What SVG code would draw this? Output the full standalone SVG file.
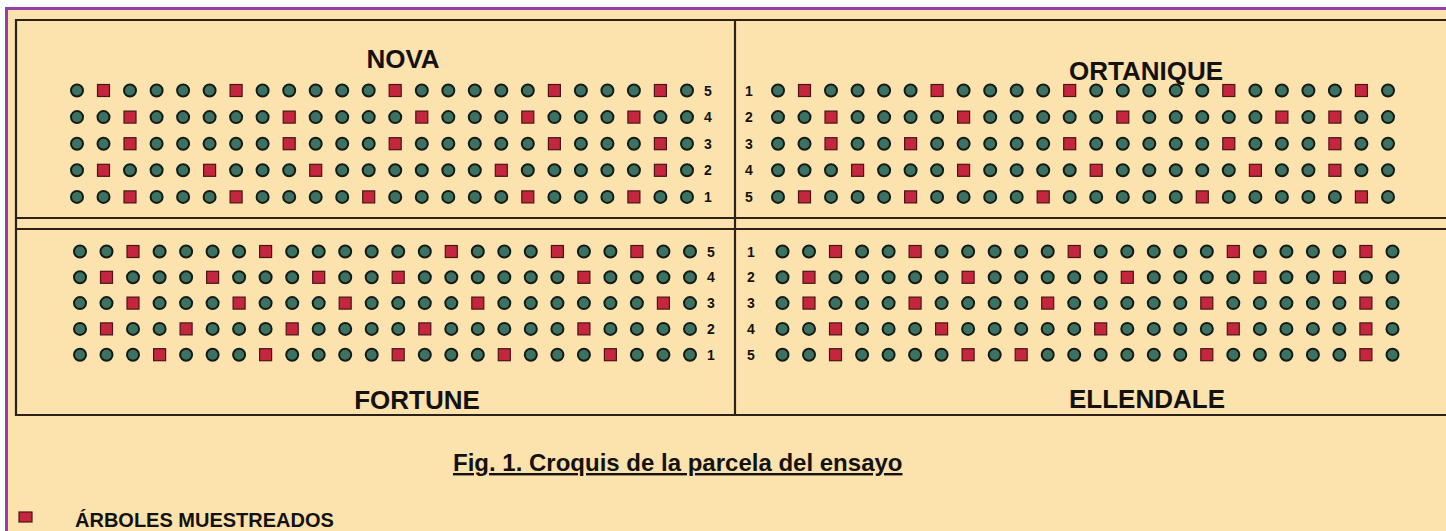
<svg xmlns="http://www.w3.org/2000/svg" width="1446" height="531" viewBox="0 0 1446 531">
<style>
.bg{fill:#fce2ac}
.frame{stroke:#2b2118;stroke-width:2.2;fill:none}
.purple{stroke:#9440a8;stroke-width:3;fill:none}
.tree{fill:#3b7262;stroke:#161a16;stroke-width:2}
.samp{fill:#c4263e;stroke:#4a1418;stroke-width:1.2}
.title{font-family:"Liberation Sans",Arial,sans-serif;font-weight:bold;font-size:26px;fill:#141210;text-anchor:middle}
.num{font-family:"Liberation Sans",Arial,sans-serif;font-weight:bold;font-size:14px;fill:#141210;text-anchor:middle}
.cap{font-family:"Liberation Sans",Arial,sans-serif;font-weight:bold;font-size:24px;fill:#141210;text-decoration:underline}
.leg{font-family:"Liberation Sans",Arial,sans-serif;font-weight:bold;font-size:20px;fill:#141210}
</style>
<defs>
<circle id="c" r="6" class="tree"/>
<rect id="s" x="-6" y="-6" width="12" height="12" class="samp"/>
</defs>
<rect width="1446" height="531" fill="#ffffff"/>
<rect x="6" y="8" width="1440" height="523" class="bg"/>
<path class="purple" d="M6.5,531 V8.5 H1446"/>
<g id="frame">
<path class="frame" d="M1446,20 H16 V415 H1446 M16,218 H1446 M16,229 H1446 M735,20 V415"/>
</g>
<g id="nova">
<text class="title" x="403" y="68">NOVA</text>
<g transform="translate(77,90.5)">
<g>
<use href="#c" x="0"/><use href="#s" x="26.5"/><use href="#c" x="53"/><use href="#c" x="79.6"/><use href="#c" x="106.1"/><use href="#c" x="132.6"/><use href="#s" x="159.1"/><use href="#c" x="185.6"/><use href="#c" x="212.2"/><use href="#c" x="238.7"/><use href="#c" x="265.2"/><use href="#c" x="291.7"/><use href="#s" x="318.2"/><use href="#c" x="344.8"/><use href="#c" x="371.3"/><use href="#c" x="397.8"/><use href="#c" x="424.3"/><use href="#c" x="450.8"/><use href="#s" x="477.4"/><use href="#c" x="503.9"/><use href="#c" x="530.4"/><use href="#c" x="556.9"/><use href="#s" x="583.4"/><use href="#c" x="610"/>
</g>
<g transform="translate(0,26.6)">
<use href="#c" x="0"/><use href="#c" x="26.5"/><use href="#s" x="53"/><use href="#c" x="79.6"/><use href="#c" x="106.1"/><use href="#c" x="132.6"/><use href="#c" x="159.1"/><use href="#c" x="185.6"/><use href="#s" x="212.2"/><use href="#c" x="238.7"/><use href="#c" x="265.2"/><use href="#c" x="291.7"/><use href="#c" x="318.2"/><use href="#s" x="344.8"/><use href="#c" x="371.3"/><use href="#c" x="397.8"/><use href="#c" x="424.3"/><use href="#s" x="450.8"/><use href="#c" x="477.4"/><use href="#c" x="503.9"/><use href="#c" x="530.4"/><use href="#s" x="556.9"/><use href="#c" x="583.4"/><use href="#c" x="610"/>
</g>
<g transform="translate(0,53.2)">
<use href="#c" x="0"/><use href="#c" x="26.5"/><use href="#s" x="53"/><use href="#c" x="79.6"/><use href="#c" x="106.1"/><use href="#c" x="132.6"/><use href="#c" x="159.1"/><use href="#c" x="185.6"/><use href="#s" x="212.2"/><use href="#c" x="238.7"/><use href="#c" x="265.2"/><use href="#c" x="291.7"/><use href="#s" x="318.2"/><use href="#c" x="344.8"/><use href="#c" x="371.3"/><use href="#c" x="397.8"/><use href="#c" x="424.3"/><use href="#c" x="450.8"/><use href="#s" x="477.4"/><use href="#c" x="503.9"/><use href="#c" x="530.4"/><use href="#c" x="556.9"/><use href="#s" x="583.4"/><use href="#c" x="610"/>
</g>
<g transform="translate(0,79.8)">
<use href="#c" x="0"/><use href="#s" x="26.5"/><use href="#c" x="53"/><use href="#c" x="79.6"/><use href="#c" x="106.1"/><use href="#s" x="132.6"/><use href="#c" x="159.1"/><use href="#c" x="185.6"/><use href="#c" x="212.2"/><use href="#s" x="238.7"/><use href="#c" x="265.2"/><use href="#c" x="291.7"/><use href="#c" x="318.2"/><use href="#c" x="344.8"/><use href="#c" x="371.3"/><use href="#c" x="397.8"/><use href="#s" x="424.3"/><use href="#c" x="450.8"/><use href="#c" x="477.4"/><use href="#c" x="503.9"/><use href="#c" x="530.4"/><use href="#c" x="556.9"/><use href="#s" x="583.4"/><use href="#c" x="610"/>
</g>
<g transform="translate(0,106.4)">
<use href="#c" x="0"/><use href="#c" x="26.5"/><use href="#s" x="53"/><use href="#c" x="79.6"/><use href="#c" x="106.1"/><use href="#c" x="132.6"/><use href="#s" x="159.1"/><use href="#c" x="185.6"/><use href="#c" x="212.2"/><use href="#c" x="238.7"/><use href="#c" x="265.2"/><use href="#s" x="291.7"/><use href="#c" x="318.2"/><use href="#c" x="344.8"/><use href="#c" x="371.3"/><use href="#c" x="397.8"/><use href="#c" x="424.3"/><use href="#s" x="450.8"/><use href="#c" x="477.4"/><use href="#c" x="503.9"/><use href="#c" x="530.4"/><use href="#s" x="556.9"/><use href="#c" x="583.4"/><use href="#c" x="610"/>
</g>
</g>
<text class="num" x="708" y="95.5">5</text>
<text class="num" x="708" y="122.1">4</text>
<text class="num" x="708" y="148.7">3</text>
<text class="num" x="708" y="175.3">2</text>
<text class="num" x="708" y="201.9">1</text>
</g>
<g id="ortanique">
<text class="title" x="1146" y="80">ORTANIQUE</text>
<g transform="translate(778,90.5)">
<g>
<use href="#c" x="0"/><use href="#s" x="26.5"/><use href="#c" x="53"/><use href="#c" x="79.6"/><use href="#c" x="106.1"/><use href="#c" x="132.6"/><use href="#s" x="159.1"/><use href="#c" x="185.6"/><use href="#c" x="212.2"/><use href="#c" x="238.7"/><use href="#c" x="265.2"/><use href="#s" x="291.7"/><use href="#c" x="318.2"/><use href="#c" x="344.8"/><use href="#c" x="371.3"/><use href="#c" x="397.8"/><use href="#c" x="424.3"/><use href="#s" x="450.8"/><use href="#c" x="477.4"/><use href="#c" x="503.9"/><use href="#c" x="530.4"/><use href="#c" x="556.9"/><use href="#s" x="583.4"/><use href="#c" x="610"/>
</g>
<g transform="translate(0,26.6)">
<use href="#c" x="0"/><use href="#c" x="26.5"/><use href="#s" x="53"/><use href="#c" x="79.6"/><use href="#c" x="106.1"/><use href="#c" x="132.6"/><use href="#c" x="159.1"/><use href="#s" x="185.6"/><use href="#c" x="212.2"/><use href="#c" x="238.7"/><use href="#c" x="265.2"/><use href="#c" x="291.7"/><use href="#c" x="318.2"/><use href="#s" x="344.8"/><use href="#c" x="371.3"/><use href="#c" x="397.8"/><use href="#c" x="424.3"/><use href="#c" x="450.8"/><use href="#c" x="477.4"/><use href="#s" x="503.9"/><use href="#c" x="530.4"/><use href="#s" x="556.9"/><use href="#c" x="583.4"/><use href="#c" x="610"/>
</g>
<g transform="translate(0,53.2)">
<use href="#c" x="0"/><use href="#c" x="26.5"/><use href="#s" x="53"/><use href="#c" x="79.6"/><use href="#c" x="106.1"/><use href="#s" x="132.6"/><use href="#c" x="159.1"/><use href="#c" x="185.6"/><use href="#c" x="212.2"/><use href="#c" x="238.7"/><use href="#c" x="265.2"/><use href="#s" x="291.7"/><use href="#c" x="318.2"/><use href="#c" x="344.8"/><use href="#c" x="371.3"/><use href="#c" x="397.8"/><use href="#c" x="424.3"/><use href="#s" x="450.8"/><use href="#c" x="477.4"/><use href="#c" x="503.9"/><use href="#c" x="530.4"/><use href="#s" x="556.9"/><use href="#c" x="583.4"/><use href="#c" x="610"/>
</g>
<g transform="translate(0,79.8)">
<use href="#c" x="0"/><use href="#c" x="26.5"/><use href="#c" x="53"/><use href="#s" x="79.6"/><use href="#c" x="106.1"/><use href="#c" x="132.6"/><use href="#c" x="159.1"/><use href="#s" x="185.6"/><use href="#c" x="212.2"/><use href="#c" x="238.7"/><use href="#c" x="265.2"/><use href="#c" x="291.7"/><use href="#s" x="318.2"/><use href="#c" x="344.8"/><use href="#c" x="371.3"/><use href="#c" x="397.8"/><use href="#c" x="424.3"/><use href="#c" x="450.8"/><use href="#s" x="477.4"/><use href="#c" x="503.9"/><use href="#c" x="530.4"/><use href="#s" x="556.9"/><use href="#c" x="583.4"/><use href="#c" x="610"/>
</g>
<g transform="translate(0,106.4)">
<use href="#c" x="0"/><use href="#s" x="26.5"/><use href="#c" x="53"/><use href="#c" x="79.6"/><use href="#c" x="106.1"/><use href="#s" x="132.6"/><use href="#c" x="159.1"/><use href="#c" x="185.6"/><use href="#c" x="212.2"/><use href="#c" x="238.7"/><use href="#s" x="265.2"/><use href="#c" x="291.7"/><use href="#c" x="318.2"/><use href="#c" x="344.8"/><use href="#c" x="371.3"/><use href="#c" x="397.8"/><use href="#s" x="424.3"/><use href="#c" x="450.8"/><use href="#c" x="477.4"/><use href="#c" x="503.9"/><use href="#c" x="530.4"/><use href="#c" x="556.9"/><use href="#s" x="583.4"/><use href="#c" x="610"/>
</g>
</g>
<text class="num" x="749" y="95.5">1</text>
<text class="num" x="749" y="122.1">2</text>
<text class="num" x="749" y="148.7">3</text>
<text class="num" x="749" y="175.3">4</text>
<text class="num" x="749" y="201.9">5</text>
</g>
<g id="fortune">
<text class="title" x="417" y="409">FORTUNE</text>
<g transform="translate(80,251.5)">
<g>
<use href="#c" x="0"/><use href="#c" x="26.5"/><use href="#s" x="53"/><use href="#c" x="79.6"/><use href="#c" x="106.1"/><use href="#c" x="132.6"/><use href="#c" x="159.1"/><use href="#s" x="185.6"/><use href="#c" x="212.2"/><use href="#c" x="238.7"/><use href="#c" x="265.2"/><use href="#c" x="291.7"/><use href="#c" x="318.2"/><use href="#c" x="344.8"/><use href="#s" x="371.3"/><use href="#c" x="397.8"/><use href="#c" x="424.3"/><use href="#c" x="450.8"/><use href="#s" x="477.4"/><use href="#c" x="503.9"/><use href="#c" x="530.4"/><use href="#s" x="556.9"/><use href="#c" x="583.4"/><use href="#c" x="610"/>
</g>
<g transform="translate(0,25.8)">
<use href="#c" x="0"/><use href="#s" x="26.5"/><use href="#c" x="53"/><use href="#c" x="79.6"/><use href="#c" x="106.1"/><use href="#s" x="132.6"/><use href="#c" x="159.1"/><use href="#c" x="185.6"/><use href="#c" x="212.2"/><use href="#s" x="238.7"/><use href="#c" x="265.2"/><use href="#c" x="291.7"/><use href="#s" x="318.2"/><use href="#c" x="344.8"/><use href="#c" x="371.3"/><use href="#c" x="397.8"/><use href="#c" x="424.3"/><use href="#c" x="450.8"/><use href="#c" x="477.4"/><use href="#s" x="503.9"/><use href="#c" x="530.4"/><use href="#c" x="556.9"/><use href="#c" x="583.4"/><use href="#c" x="610"/>
</g>
<g transform="translate(0,51.6)">
<use href="#c" x="0"/><use href="#c" x="26.5"/><use href="#s" x="53"/><use href="#c" x="79.6"/><use href="#c" x="106.1"/><use href="#c" x="132.6"/><use href="#s" x="159.1"/><use href="#c" x="185.6"/><use href="#c" x="212.2"/><use href="#c" x="238.7"/><use href="#s" x="265.2"/><use href="#c" x="291.7"/><use href="#c" x="318.2"/><use href="#c" x="344.8"/><use href="#c" x="371.3"/><use href="#s" x="397.8"/><use href="#c" x="424.3"/><use href="#c" x="450.8"/><use href="#c" x="477.4"/><use href="#c" x="503.9"/><use href="#c" x="530.4"/><use href="#c" x="556.9"/><use href="#s" x="583.4"/><use href="#c" x="610"/>
</g>
<g transform="translate(0,77.4)">
<use href="#c" x="0"/><use href="#s" x="26.5"/><use href="#c" x="53"/><use href="#c" x="79.6"/><use href="#s" x="106.1"/><use href="#c" x="132.6"/><use href="#c" x="159.1"/><use href="#c" x="185.6"/><use href="#s" x="212.2"/><use href="#c" x="238.7"/><use href="#c" x="265.2"/><use href="#c" x="291.7"/><use href="#c" x="318.2"/><use href="#s" x="344.8"/><use href="#c" x="371.3"/><use href="#c" x="397.8"/><use href="#c" x="424.3"/><use href="#c" x="450.8"/><use href="#c" x="477.4"/><use href="#s" x="503.9"/><use href="#c" x="530.4"/><use href="#c" x="556.9"/><use href="#c" x="583.4"/><use href="#c" x="610"/>
</g>
<g transform="translate(0,103.2)">
<use href="#c" x="0"/><use href="#c" x="26.5"/><use href="#c" x="53"/><use href="#s" x="79.6"/><use href="#c" x="106.1"/><use href="#c" x="132.6"/><use href="#c" x="159.1"/><use href="#s" x="185.6"/><use href="#c" x="212.2"/><use href="#c" x="238.7"/><use href="#c" x="265.2"/><use href="#c" x="291.7"/><use href="#s" x="318.2"/><use href="#c" x="344.8"/><use href="#c" x="371.3"/><use href="#c" x="397.8"/><use href="#s" x="424.3"/><use href="#c" x="450.8"/><use href="#c" x="477.4"/><use href="#c" x="503.9"/><use href="#s" x="530.4"/><use href="#c" x="556.9"/><use href="#c" x="583.4"/><use href="#c" x="610"/>
</g>
</g>
<text class="num" x="711" y="256.5">5</text>
<text class="num" x="711" y="282.3">4</text>
<text class="num" x="711" y="308.1">3</text>
<text class="num" x="711" y="333.9">2</text>
<text class="num" x="711" y="359.7">1</text>
</g>
<g id="ellendale">
<text class="title" x="1147" y="408">ELLENDALE</text>
<g transform="translate(782.5,251.5)">
<g>
<use href="#c" x="0"/><use href="#c" x="26.5"/><use href="#s" x="53"/><use href="#c" x="79.6"/><use href="#c" x="106.1"/><use href="#s" x="132.6"/><use href="#c" x="159.1"/><use href="#c" x="185.6"/><use href="#c" x="212.2"/><use href="#c" x="238.7"/><use href="#c" x="265.2"/><use href="#s" x="291.7"/><use href="#c" x="318.2"/><use href="#c" x="344.8"/><use href="#c" x="371.3"/><use href="#c" x="397.8"/><use href="#c" x="424.3"/><use href="#s" x="450.8"/><use href="#c" x="477.4"/><use href="#c" x="503.9"/><use href="#c" x="530.4"/><use href="#c" x="556.9"/><use href="#s" x="583.4"/><use href="#c" x="610"/>
</g>
<g transform="translate(0,25.8)">
<use href="#c" x="0"/><use href="#s" x="26.5"/><use href="#c" x="53"/><use href="#c" x="79.6"/><use href="#c" x="106.1"/><use href="#c" x="132.6"/><use href="#c" x="159.1"/><use href="#s" x="185.6"/><use href="#c" x="212.2"/><use href="#c" x="238.7"/><use href="#c" x="265.2"/><use href="#c" x="291.7"/><use href="#c" x="318.2"/><use href="#s" x="344.8"/><use href="#c" x="371.3"/><use href="#c" x="397.8"/><use href="#c" x="424.3"/><use href="#c" x="450.8"/><use href="#s" x="477.4"/><use href="#c" x="503.9"/><use href="#c" x="530.4"/><use href="#s" x="556.9"/><use href="#c" x="583.4"/><use href="#c" x="610"/>
</g>
<g transform="translate(0,51.6)">
<use href="#c" x="0"/><use href="#s" x="26.5"/><use href="#c" x="53"/><use href="#c" x="79.6"/><use href="#c" x="106.1"/><use href="#s" x="132.6"/><use href="#c" x="159.1"/><use href="#c" x="185.6"/><use href="#c" x="212.2"/><use href="#c" x="238.7"/><use href="#s" x="265.2"/><use href="#c" x="291.7"/><use href="#c" x="318.2"/><use href="#c" x="344.8"/><use href="#c" x="371.3"/><use href="#c" x="397.8"/><use href="#s" x="424.3"/><use href="#c" x="450.8"/><use href="#c" x="477.4"/><use href="#c" x="503.9"/><use href="#c" x="530.4"/><use href="#c" x="556.9"/><use href="#s" x="583.4"/><use href="#c" x="610"/>
</g>
<g transform="translate(0,77.4)">
<use href="#c" x="0"/><use href="#c" x="26.5"/><use href="#s" x="53"/><use href="#c" x="79.6"/><use href="#c" x="106.1"/><use href="#c" x="132.6"/><use href="#s" x="159.1"/><use href="#c" x="185.6"/><use href="#c" x="212.2"/><use href="#c" x="238.7"/><use href="#c" x="265.2"/><use href="#c" x="291.7"/><use href="#s" x="318.2"/><use href="#c" x="344.8"/><use href="#c" x="371.3"/><use href="#c" x="397.8"/><use href="#c" x="424.3"/><use href="#s" x="450.8"/><use href="#c" x="477.4"/><use href="#c" x="503.9"/><use href="#c" x="530.4"/><use href="#c" x="556.9"/><use href="#s" x="583.4"/><use href="#c" x="610"/>
</g>
<g transform="translate(0,103.2)">
<use href="#c" x="0"/><use href="#c" x="26.5"/><use href="#s" x="53"/><use href="#c" x="79.6"/><use href="#c" x="106.1"/><use href="#c" x="132.6"/><use href="#c" x="159.1"/><use href="#s" x="185.6"/><use href="#c" x="212.2"/><use href="#s" x="238.7"/><use href="#c" x="265.2"/><use href="#c" x="291.7"/><use href="#c" x="318.2"/><use href="#c" x="344.8"/><use href="#c" x="371.3"/><use href="#c" x="397.8"/><use href="#s" x="424.3"/><use href="#c" x="450.8"/><use href="#c" x="477.4"/><use href="#c" x="503.9"/><use href="#c" x="530.4"/><use href="#c" x="556.9"/><use href="#s" x="583.4"/><use href="#c" x="610"/>
</g>
</g>
<text class="num" x="751" y="256.5">1</text>
<text class="num" x="751" y="282.3">2</text>
<text class="num" x="751" y="308.1">3</text>
<text class="num" x="751" y="333.9">4</text>
<text class="num" x="751" y="359.7">5</text>
</g>
<g id="caption">
<text class="cap" x="453" y="471">Fig. 1. Croquis de la parcela del ensayo</text>
</g>
<g id="legend">
<rect x="19" y="512" width="13" height="10" class="samp"/>
<text class="leg" x="75" y="527">ÁRBOLES MUESTREADOS</text>
</g>
</svg>
